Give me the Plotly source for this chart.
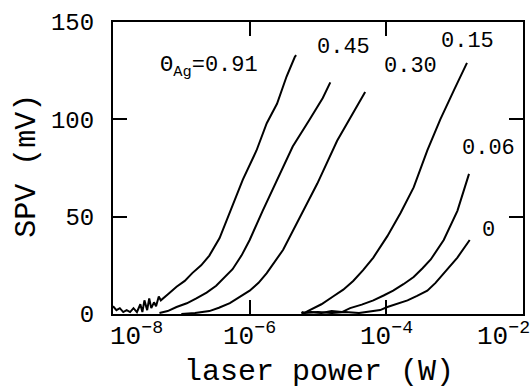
import plotly.graph_objects as go

# log10 of laser power (W) and SPV (mV) for each Ag coverage
logp_091 = [-8.0, -7.95, -7.9, -7.85, -7.8, -7.75, -7.7, -7.65, -7.6, -7.57, -7.54, -7.5, -7.47,
            -7.44, -7.4, -7.37, -7.33, -7.3, -7.2, -7.07, -6.95, -6.84, -6.71, -6.59, -6.44,
            -6.29, -6.10, -5.90, -5.75, -5.60, -5.46, -5.34, -5.32]
spv_091 = [4, 2, 3, 1, 2, 1, 3, 1, 5, 1, 7, 2, 8, 3, 6, 4, 9, 7, 10, 14, 17, 21, 25, 30, 39,
           52, 69, 84, 98, 108, 122, 132, 133]

logp_045 = [-7.32, -7.2, -7.07, -6.92, -6.78, -6.63, -6.49, -6.37, -6.25, -6.12, -6.0, -5.81,
            -5.60, -5.37, -5.12, -4.93, -4.82]
spv_045 = [0.5, 1.5, 3.6, 5.5, 8, 11, 14.5, 18.5, 23, 30, 38, 53, 69, 86, 100, 111, 119]

logp_030 = [-7.0, -6.8, -6.59, -6.45, -6.29, -6.15, -6.0, -5.87, -5.75, -5.51, -5.26, -5.01,
            -4.72, -4.31]
spv_030 = [0, 0.5, 1.5, 3.2, 5.6, 8.5, 12, 16, 21, 33, 50, 67, 89, 114]

logp_015 = [-5.24, -5.2, -5.15, -5.12, -4.95, -4.78, -4.63, -4.485, -4.34, -4.19, -3.985,
            -3.79, -3.60, -3.40, -3.21, -3.01, -2.82]
spv_015 = [1, 0.5, 1.5, 2, 5, 9, 12.5, 17, 22.5, 29, 40, 52, 65, 84, 100, 115, 129]

logp_006 = [-5.24, -5.1, -4.95, -4.8, -4.65, -4.53, -4.36, -4.19, -4.04, -3.90, -3.75, -3.60,
            -3.47, -3.35, -3.16, -2.96, -2.79]
spv_006 = [0.5, 1, 0.5, 1.5, 1, 3, 4.8, 7, 9.5, 12, 15.3, 19, 23.5, 28, 38, 53, 72]

logp_000 = [-5.24, -5.0, -4.8, -4.6, -4.4, -4.2, -4.09, -3.985, -3.84, -3.69, -3.55, -3.40,
            -3.28, -3.16, -2.96, -2.78]
spv_000 = [0.5, 1, 0.5, 1, 0.5, 1.5, 2, 3.6, 5.2, 7, 9.3, 12, 16, 21, 29, 38]

series = [
    (logp_091, spv_091), (logp_045, spv_045), (logp_030, spv_030),
    (logp_015, spv_015), (logp_006, spv_006), (logp_000, spv_000),
]

# curve labels: text, log10(P) position, SPV position
label_text = ["\u0398<sub>Ag</sub>=0.91", "0.45", "0.30", "0.15", "0.06", "0"]
label_logp = [-6.59, -4.63, -3.65, -2.81, -2.50, -2.50]
label_spv = [127, 137, 127, 140, 85, 43]

x_tick_exp = [-8, -6, -4, -2]
y_tick_vals = [0, 50, 100, 150]

FONT = "Liberation Mono, Courier New, monospace"

fig = go.Figure()
for lp, v in series:
    fig.add_trace(go.Scatter(
        x=[10 ** e for e in lp], y=v, mode="lines",
        line=dict(color="black", width=2), showlegend=False, hoverinfo="skip"))

for t, lx, ly in zip(label_text, label_logp, label_spv):
    fig.add_annotation(x=lx, y=ly, xref="x", yref="y", text=t, showarrow=False,
                       xanchor="center", yanchor="middle",
                       font=dict(family=FONT, size=22, color="black"))

shifts = {-8: 23, -2: -20}
for e in x_tick_exp:
    fig.add_annotation(x=e, y=0, xref="x", yref="paper", xanchor="center", yanchor="top",
                       yshift=-2, xshift=shifts.get(e, 0),
                       text="10<sup>\u2212%d</sup>" % (-e), showarrow=False,
                       font=dict(family=FONT, size=26, color="black"))

# axis titles
fig.add_annotation(x=0.502, y=-0.2, xref="paper", yref="paper", xanchor="center",
                   yanchor="middle", text="laser power (W)", showarrow=False,
                   font=dict(family=FONT, size=30, color="black"))
fig.add_annotation(x=-0.21, y=0.507, xref="paper", yref="paper", xanchor="center",
                   yanchor="middle", textangle=-90,
                   text="SPV (mV)", showarrow=False,
                   font=dict(family=FONT, size=30, color="black"))

fig.update_xaxes(type="log", range=[-8, -2], tickvals=[10 ** e for e in x_tick_exp],
                 showticklabels=False, ticks="inside", ticklen=14, tickwidth=1.5,
                 tickcolor="black", showline=True, linecolor="black", linewidth=2,
                 mirror="ticks", showgrid=False, zeroline=False, automargin=False)
fig.update_yaxes(range=[0, 150], tickvals=y_tick_vals, ticks="inside", ticklen=14,
                 tickwidth=1.5, tickcolor="black", showline=True, linecolor="black",
                 linewidth=2, mirror="ticks", showgrid=False, zeroline=False,
                 ticklabelstandoff=12, automargin=False,
                 tickfont=dict(family=FONT, size=24, color="black"))

fig.update_layout(width=531, height=389, margin=dict(l=113, r=8, t=22, b=75),
                  plot_bgcolor="white", paper_bgcolor="white")

fig.write_html("out.html", config={"displayModeBar": False},
               post_script="document.body.style.margin='0px';document.body.style.padding='0px';")
